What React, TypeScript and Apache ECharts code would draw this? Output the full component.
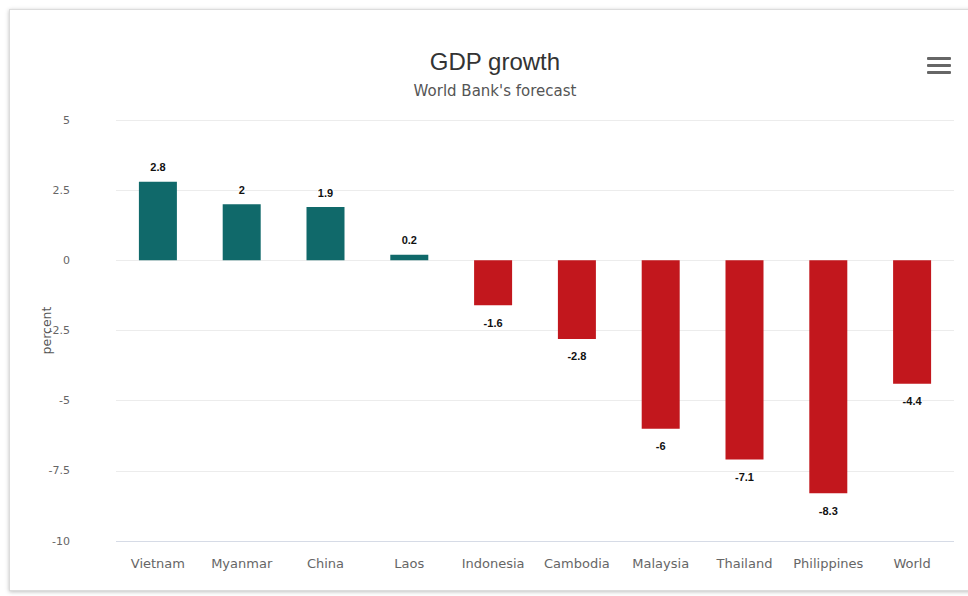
import React, { useEffect, useRef } from "react";
import * as echarts from "echarts";

const categories = ["Vietnam", "Myanmar", "China", "Laos", "Indonesia", "Cambodia", "Malaysia", "Thailand", "Philippines", "World"];
const growth = [2.8, 2, 1.9, 0.2, -1.6, -2.8, -6, -7.1, -8.3, -4.4];
const yTicks = { min: -10, max: 5, interval: 2.5 };
const titleText = "GDP growth";
const subtitleText = "World Bank's forecast";
const yAxisTitle = "percent";

const FONT = "'Liberation Sans', Arial, sans-serif";
const WIDE = "'DejaVu Sans', Verdana, sans-serif";
const POS = "#10696a";
const NEG = "#c2171d";

export default function App() {
  const ref = useRef<HTMLDivElement>(null);
  useEffect(() => {
    if (!ref.current) return;
    const chart = echarts.init(ref.current, undefined, { renderer: "svg" });
    chart.setOption({
      animation: false,
      textStyle: { fontFamily: FONT },
      title: {
        text: titleText,
        subtext: subtitleText,
        left: 490,
        top: 44,
        textAlign: "center",
        itemGap: 10,
        textStyle: { fontFamily: FONT, fontSize: 24, fontWeight: "normal", color: "#333333" },
        subtextStyle: { fontFamily: WIDE, fontSize: 15, color: "#555555" },
      },
      grid: { left: 116, right: 14, top: 120, bottom: 55 },
      xAxis: {
        type: "category",
        data: categories,
        axisLine: { show: false },
        axisTick: { show: false },
        axisLabel: { color: "#666666", fontSize: 13, margin: 16, fontFamily: WIDE, interval: 0, hideOverlap: false },
        splitLine: { show: false },
      },
      yAxis: {
        type: "value",
        min: yTicks.min,
        max: yTicks.max,
        interval: yTicks.interval,
        name: yAxisTitle,
        nameLocation: "middle",
        nameGap: 63,
        nameMoveOverlap: false,
        nameTextStyle: { color: "#555555", fontSize: 12.5, fontFamily: WIDE },
        axisLine: { show: false },
        axisTick: { show: false },
        axisLabel: { color: "#666666", fontSize: 11, margin: 46, align: "right", fontFamily: WIDE },
        splitLine: { lineStyle: { color: "#ececec", width: 1 } },
      },
      series: [
        {
          type: "bar",
          barWidth: 38,
          data: growth.map((v) => ({
            value: v,
            itemStyle: { color: v >= 0 ? POS : NEG },
            label: {
              show: true,
              position: v >= 0 ? "top" : "bottom",
              distance: v >= 0 ? 9 : 12,
              formatter: String(v),
              color: "#111111",
              fontWeight: "bold",
              fontSize: 11,
              fontFamily: FONT,
              textBorderColor: "#ffffff",
              textBorderWidth: 2,
            },
          })),
          markLine: {
            silent: true,
            symbol: "none",
            label: { show: false },
            lineStyle: { color: "#d6dbe6", type: "solid", width: 1 },
            data: [{ yAxis: yTicks.min }],
          },
        },
      ],
      graphic: [
        { type: "rect", left: 927, top: 57, shape: { width: 24, height: 3, r: 1 }, style: { fill: "#666666" } },
        { type: "rect", left: 927, top: 64, shape: { width: 24, height: 3, r: 1 }, style: { fill: "#666666" } },
        { type: "rect", left: 927, top: 71, shape: { width: 24, height: 3, r: 1 }, style: { fill: "#666666" } },
      ],
    });
    return () => chart.dispose();
  }, []);

  return (
    <div style={{ position: "fixed", left: 0, top: 0, width: 968, height: 596, overflow: "hidden", background: "#ffffff" }}>
      <div
        style={{
          position: "absolute",
          left: 9,
          top: 9,
          width: 975,
          height: 580,
          border: "1px solid #dcdcdc",
          boxShadow: "0 1px 4px rgba(0,0,0,0.25)",
          background: "#ffffff",
        }}
      />
      <div ref={ref} style={{ position: "absolute", left: 0, top: 0, width: 968, height: 596 }} />
    </div>
  );
}
